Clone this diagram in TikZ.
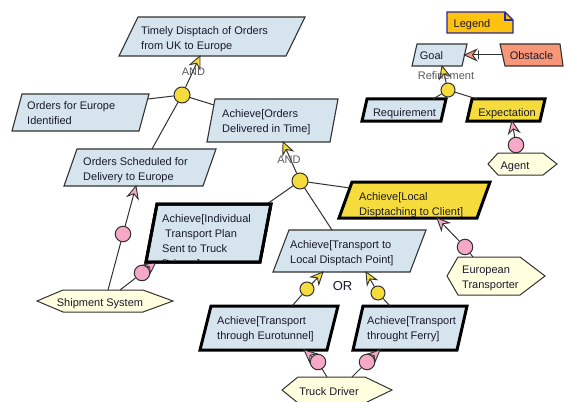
\documentclass[tikz,border=0pt]{standalone}
\usepackage{fontspec}
\setmainfont{Liberation Sans}
\usetikzlibrary{calc,decorations.markings}
\definecolor{gblue}{RGB}{214,228,238}
\definecolor{gyel}{RGB}{245,220,60}
\definecolor{gpink}{RGB}{246,168,198}
\definecolor{gcream}{RGB}{255,254,222}
\definecolor{gobs}{RGB}{248,150,120}
\definecolor{gleg}{RGB}{255,194,14}
\definecolor{gleb}{RGB}{40,40,160}
\definecolor{gline}{RGB}{50,50,50}
\definecolor{gtext}{RGB}{25,25,45}
\definecolor{ggray}{RGB}{90,90,90}
% parallelogram box: style, name, xBL, yT, yB, bottom width, slant
\newcommand\mkpg[7]{%
  \pgfmathsetmacro\mkpgcx{#3+(#6+#7)/2}%
  \pgfmathsetmacro\mkpgcy{(#4+#5)/2}%
  \pgfmathsetmacro\mkpgw{#6+#7}%
  \pgfmathsetmacro\mkpgh{#5-#4}%
  \node[core, minimum width=\mkpgw pt, minimum height=\mkpgh pt] (#2) at (\mkpgcx,\mkpgcy) {};
  \path[#1] ([xshift=#7 pt]#2.north west) -- (#2.north east) -- ([xshift=-#7 pt]#2.south east) -- (#2.south west) -- cycle;
}
% hexagon: name, xL, xR, yT, yB, left indent, right indent
\newcommand\mkhex[7]{%
  \pgfmathsetmacro\mkpgcx{(#2+#3)/2}%
  \pgfmathsetmacro\mkpgcy{(#4+#5)/2}%
  \pgfmathsetmacro\mkpgw{#3-#2}%
  \pgfmathsetmacro\mkpgh{#5-#4}%
  \node[core, minimum width=\mkpgw pt, minimum height=\mkpgh pt] (#1) at (\mkpgcx,\mkpgcy) {};
  \path[hexst] (#1.west) -- ([xshift=#6 pt]#1.north west) -- ([xshift=-#7 pt]#1.north east) -- (#1.east) -- ([xshift=-#7 pt]#1.south east) -- ([xshift=#6 pt]#1.south west) -- cycle;
}
\begin{document}
\begin{tikzpicture}[x=1pt,y=-1pt,
  core/.style={shape=rectangle, inner sep=0, outer sep=0, draw=none},
  thinbox/.style={draw=gline, line width=1.1pt, fill=gblue, line join=miter},
  thickblue/.style={draw=black, line width=3pt, fill=gblue, line join=miter},
  thickyel/.style={draw=black, line width=3pt, fill=gyel, line join=miter},
  thickonly/.style={draw=black, line width=3pt, line join=miter},
  obsst/.style={draw=gline, line width=1.1pt, fill=gobs},
  hexst/.style={draw=gline, line width=1pt, fill=gcream},
  legst/.style={draw=gleb, line width=1.1pt, fill=gleg, line join=miter},
  txt/.style={inner sep=0, align=left, text=gtext, font=\fontsize{11}{15}\selectfont},
  lbl/.style={inner sep=0, text=ggray, font=\fontsize{11}{15}\selectfont},
  refc/.style={circle, draw=gline, line width=1pt, fill=gyel, minimum size=16pt, inner sep=0},
  agc/.style={circle, draw=gline, line width=1pt, fill=gpink, minimum size=15.5pt, inner sep=0},
  link/.style={draw=gline, line width=1pt},
  headst/.style={draw=gline, line width=0.9pt, line join=miter},
  headed/.style={link, postaction={decorate, decoration={markings,
      mark=at position -0.5pt with {\path[headst, fill=#1] (0.5,0) -- (-11.5,5.5) -- (-7.5,0) -- (-11.5,-5.5) -- cycle;}}}},
  yarrow/.style={headed=gyel},
  parrow/.style={headed=gpink},
  oarrow/.style={headed=gobs}
]
\useasboundingbox (0,0) rectangle (564,401);
\fill[white] (0,0) rectangle (564,401);
\clip (0,0) rectangle (564,401);

% goal boxes
\mkpg{thinbox}{g0}{119}{17}{56}{167}{19}
\mkpg{thinbox}{g1}{12}{94}{131}{127}{10}
\mkpg{thinbox}{g2}{64}{149}{186}{139}{13}
\mkpg{thinbox}{g3}{207}{99}{142}{123}{8}
\mkpg{thickblue}{g4}{146}{204}{262}{114}{11}
\mkpg{thickyel}{g5}{339}{182}{218}{138}{13}
\mkpg{thinbox}{g6}{273}{230}{272}{137}{16}
\mkpg{thickblue}{g7}{200}{306}{350}{127}{11}
\mkpg{thickblue}{g8}{353}{306}{350}{104}{10}
% legend boxes
\mkpg{thinbox}{goal}{412}{44}{66}{50}{5}
\mkpg{thickblue}{req}{362}{99}{121}{79}{5}
\mkpg{thickyel}{exp}{467}{99}{121}{73}{5}
\node[core, minimum width=63pt, minimum height=22pt] (obs) at (531.5,55) {};
\path[obsst] (obs.north west) -- ([xshift=-3pt]obs.north east) -- (obs.south east) -- ([xshift=5pt]obs.south west) -- cycle;
\node[core, minimum width=66pt, minimum height=21pt] (legend) at (480,22.5) {};
\path[legst] (legend.south west) -- (legend.north west) -- ([xshift=-8pt]legend.north east) -- ([yshift=-8pt]legend.north east) -- (legend.south east) -- cycle;
\path[legst, fill=none] ([xshift=-8pt]legend.north east) -- ([xshift=-8pt,yshift=-8pt]legend.north east) -- ([yshift=-8pt]legend.north east);

% agents
\mkhex{ship}{37}{173}{290}{312}{26}{30}
\mkhex{agent}{488}{557}{153}{175}{10}{14}
\mkhex{eut}{447}{545}{257}{295}{11}{25}
\mkhex{truck}{282}{392}{377}{403}{16}{27}

% circles
\node[refc] (a1) at (182,95) {};
\node[refc] (a2) at (300,181) {};
\node[refc, minimum size=14pt] (lr) at (448,90) {};
\node[refc, minimum size=14pt] (o1) at (307,289) {};
\node[refc, minimum size=14pt] (o2) at (378,293) {};
\node[agc] (p1) at (123,234) {};
\node[agc] (p2) at (142,273) {};
\node[agc] (p3) at (465,247) {};
\node[agc] (p4) at (318,362) {};
\node[agc] (p5) at (367,362) {};
\node[agc] (p6) at (516,145) {};

% connectors
\draw[yarrow] (a1) -- ([xshift=81pt]g0.south west);
\draw[link] (a1) -- ([xshift=-1pt,yshift=-5pt]g1.north east);
\draw[link] (a1) -- ([xshift=88pt]g2.north west);
\draw[link] (a1) -- ([xshift=7pt,yshift=-6pt]g3.north west);
\draw[yarrow] (a2) -- ([xshift=76pt]g3.south west);
\draw[link] (a2) -- ([xshift=121pt]g4.north west);
\draw[link] (a2) -- ([xshift=11pt,yshift=-6pt]g5.north west);
\draw[link] (a2) -- ([xshift=59pt]g6.north west);
\draw[yarrow] (lr) -- ([xshift=30pt]goal.south west);
\draw[link] (lr) -- ([xshift=71pt]req.north west);
\draw[link] (lr) -- ([xshift=10pt]exp.north west);
\draw[yarrow] (o1) -- ([xshift=50pt]g6.south west);
\draw[link] ([xshift=92pt]g7.north west) -- (o1);
\draw[yarrow] (o2) -- ([xshift=93pt]g6.south west);
\draw[link] ([xshift=37pt]g8.north west) -- (o2);
\draw[link] ([xshift=71pt]ship.north west) -- (p1);
\draw[parrow] (p1) -- ([xshift=72pt]g2.south west);
\draw[link] ([xshift=83pt]ship.north west) -- (p2);
\draw[parrow] (p2) -- ([xshift=10pt]g4.south west);
\draw[link] ([xshift=26pt]eut.north west) -- (p3);
\draw[parrow] (p3) -- ([xshift=98pt]g5.south west);
\draw[link] ([xshift=45pt]truck.north west) -- (p4);
\draw[parrow] (p4) -- ([xshift=104pt]g7.south west);
\draw[link] ([xshift=70pt]truck.north west) -- (p5);
\draw[parrow] (p5) -- ([xshift=27pt]g8.south west);
\draw[parrow] (p6) -- ([xshift=45pt]exp.south west);
\draw[oarrow] ([xshift=2.5pt]obs.west) -- ([xshift=-2.5pt]goal.east)
  node[pos=0.62, draw=gline, line width=1pt, minimum height=9pt, minimum width=0pt, inner sep=0] (tick) {};

% texts
\node[txt, anchor=west] (g0t) at (141,38.7) {Timely Disptach of Orders\\from UK to Europe};
\node[txt, anchor=west] (g1t) at (27,113.5) {Orders for Europe\\Identified};
\node[txt, anchor=west] (g2t) at (83,169.7) {Orders Scheduled for\\Delivery to Europe};
\node[txt, anchor=west] (g3t) at (222,121.7) {Achieve[Orders\\Delivered in Time]};
\begin{scope}
  \clip ([xshift=11pt]g4.north west) -- (g4.north east) -- ([xshift=-11pt]g4.south east) -- (g4.south west) -- cycle;
  \node[txt, anchor=north west] (g4t) at (162,214) {Achieve[Individual\\\hspace*{3pt}Transport Plan\\Sent to Truck\\Drivers]};
\end{scope}
\path[thickonly] ([xshift=11pt]g4.north west) -- (g4.north east) -- ([xshift=-11pt]g4.south east) -- (g4.south west) -- cycle;
\node[txt, anchor=west] (g5t) at (359,204.7) {Achieve[Local\\Disptaching to Client]};
\node[txt, anchor=west] (g6t) at (290,252.7) {Achieve[Transport to\\Local Disptach Point]};
\node[txt, anchor=west] (g7t) at (217,329.2) {Achieve[Transport\\through Eurotunnel]};
\node[txt, anchor=west] (g8t) at (367,328.7) {Achieve[Transport\\throught Ferry]};
\node[txt, anchor=west] (eutt) at (462,278.2) {European\\Transporter};
\node[txt, anchor=base] (goalt) at (431.5,60) {Goal};
\node[txt, anchor=base] (reqt) at (404.5,116.5) {Requirement};
\node[txt, anchor=base] (expt) at (507,116.5) {Expectation};
\node[txt, anchor=base] (obst) at (531.5,60) {Obstacle};
\node[txt, anchor=base] (agentt) at (515,169.5) {Agent};
\node[txt, anchor=base] (shipt) at (100,306) {Shipment System};
\node[txt, anchor=base] (truckt) at (329,395) {Truck Driver};
\node[txt, anchor=base] (legt) at (472,27.5) {Legend};
\node[lbl, anchor=base] (and1) at (193.5,76) {AND};
\node[lbl, anchor=base] (and2) at (289,163.3) {AND};
\node[lbl, anchor=base] (refl) at (446,80) {Refinement};
\node[txt, anchor=base, font=\fontsize{13}{15}\selectfont] (orl) at (342.5,290.5) {OR};
\end{tikzpicture}
\end{document}
